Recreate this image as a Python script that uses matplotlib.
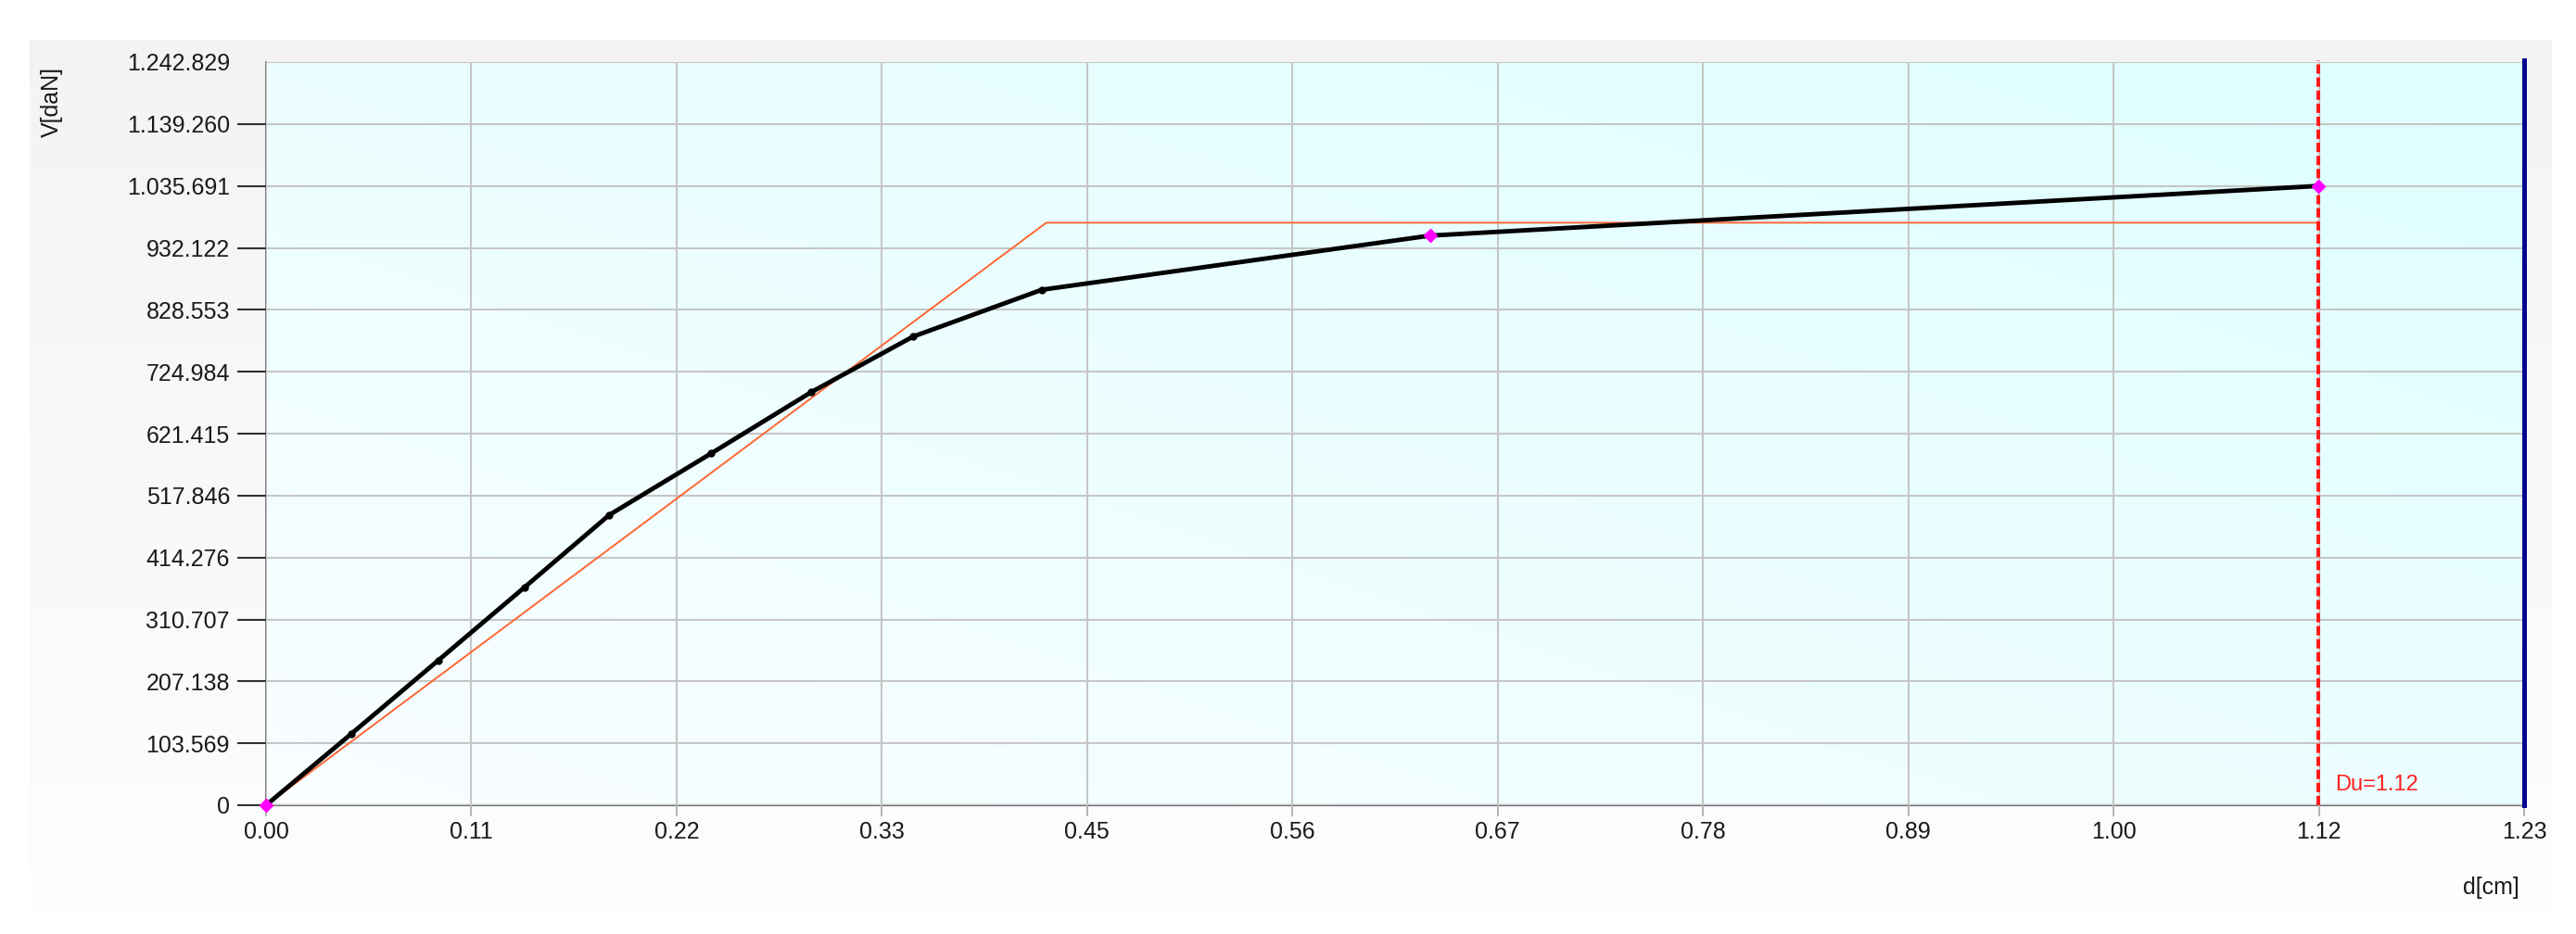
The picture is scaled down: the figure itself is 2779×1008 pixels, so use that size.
import numpy as np
import matplotlib
matplotlib.use("Agg")
import matplotlib.pyplot as plt

plt.rcParams['font.family'] = ['Liberation Sans', 'DejaVu Sans']

# ---- data ----
d_curve = [0.0, 0.0466, 0.0938, 0.1407, 0.1870, 0.2425, 0.2969, 0.3524, 0.4226, 0.6340, 1.118]
V_curve = [0, 119790, 242210, 364170, 485510, 588400, 690680, 783660, 862080, 952580, 1035691]
marked_idx = [0, 9, 10]                      # magenta diamond points on the curve
d_bilinear = [0.0, 0.4250, 1.118]
V_bilinear = [0, 974200, 974200]
du_value = 1.118
du_label = "Du=1.12"
x_max = 1.23
y_max = 1242829
x_tick_labels = ['0.00', '0.11', '0.22', '0.33', '0.45', '0.56', '0.67',
                 '0.78', '0.89', '1.00', '1.12', '1.23']
y_tick_labels = ['0', '103.569', '207.138', '310.707', '414.276', '517.846',
                 '621.415', '724.984', '828.553', '932.122', '1.035.691',
                 '1.139.260', '1.242.829']
x_label = "d[cm]"
y_label = "V[daN]"

# ---- figure ----
W, H, DPI = 2779, 1008, 100
fig = plt.figure(figsize=(W / DPI, H / DPI), dpi=DPI, facecolor='white')

# outer light-gray panel (vertical gradient)
bg = fig.add_axes([32 / W, (H - 986) / H, (2753 - 32) / W, (986 - 43) / H], zorder=-5)
t = np.linspace(0, 1, 256)[:, None]          # 0 top -> 1 bottom
g = 0.955 + (0.994 - 0.955) * t
bg_img = np.dstack([g, g, g]) * np.ones((1, 4, 1))
bg.imshow(bg_img, aspect='auto', extent=[0, 1, 0, 1], interpolation='bilinear')
bg.axis('off')

ax = fig.add_axes([287 / W, (H - 869) / H, (2723 - 287) / W, (869 - 67) / H], zorder=1)
ax.set_facecolor('none')

# plot-area diagonal gradient (white-cyan bottom-left -> cyan top-right)
n = 256
X, Y = np.meshgrid(np.linspace(0, 1, n), np.linspace(0, 1, n))
tt = (X + Y) / 2
R = 0.978 - (0.978 - 0.872) * tt
G = 0.995 + 0.005 * tt
B = np.ones_like(tt)
ax.imshow(np.dstack([R, G, B]), origin='lower', extent=[0, 1, 0, 1],
          transform=ax.transAxes, aspect='auto', zorder=0, interpolation='bilinear')

# grid / ticks
x_ticks = np.linspace(0, x_max, len(x_tick_labels))
y_ticks = np.linspace(0, y_max, len(y_tick_labels))
ax.set_xticks(x_ticks, x_tick_labels)
ax.set_yticks(y_ticks, y_tick_labels)
ax.set_axisbelow(False)
ax.grid(True, color='#c6c6c6', lw=1.5, zorder=1)

ax.tick_params(axis='y', length=22.3, width=1.5, color='#303030', pad=5.8,
               labelsize=18, labelcolor='#1a1a1a')
ax.tick_params(axis='x', length=8.6, width=1.4, color='#b4b4b4', pad=3.6,
               labelsize=18, labelcolor='#1a1a1a')
ax.yaxis.get_major_ticks()[-1].tick1line.set_visible(False)

for s in ['top', 'right']:
    ax.spines[s].set_visible(False)
ax.spines['left'].set_color('#7a7a7a')
ax.spines['left'].set_linewidth(1.4)
ax.spines['bottom'].set_color('#6a6a6a')
ax.spines['bottom'].set_linewidth(1.6)

# series
ax.plot(d_bilinear, V_bilinear, color='#ff6633', lw=1.4, zorder=3)
ax.plot(d_curve, V_curve, color='black', lw=3.5, marker='o', ms=5, zorder=4)
ax.plot([d_curve[i] for i in marked_idx], [V_curve[i] for i in marked_idx], 'D',
        color='#ff00ff', ms=8.5, mec='none', zorder=6, clip_on=False)
ax.axvline(du_value, color='#ff1a1a', lw=2.9, ls=(0, (2.5, 1.0)), zorder=3,
           ymax=1.003, clip_on=False)
ax.axvline(x_max, color='#00008e', lw=3.6, ymax=1.003, clip_on=False, zorder=5)

ax.set_xlim(0, x_max)
ax.set_ylim(0, y_max)

ax.annotate(du_label, xy=(du_value, 0), xycoords='data', xytext=(17.5, 22),
            textcoords='offset pixels', color='#ff2020', fontsize=17,
            ha='left', va='center', zorder=7)

fig.text(56 / W, 1 - 72 / H, y_label, rotation=90, ha='center', va='top',
         fontsize=18, color='#1a1a1a')
fig.text(2718 / W, 1 - 958 / H, x_label, ha='right', va='center',
         fontsize=18, color='#1a1a1a')

fig.savefig('out.png', dpi=DPI)
